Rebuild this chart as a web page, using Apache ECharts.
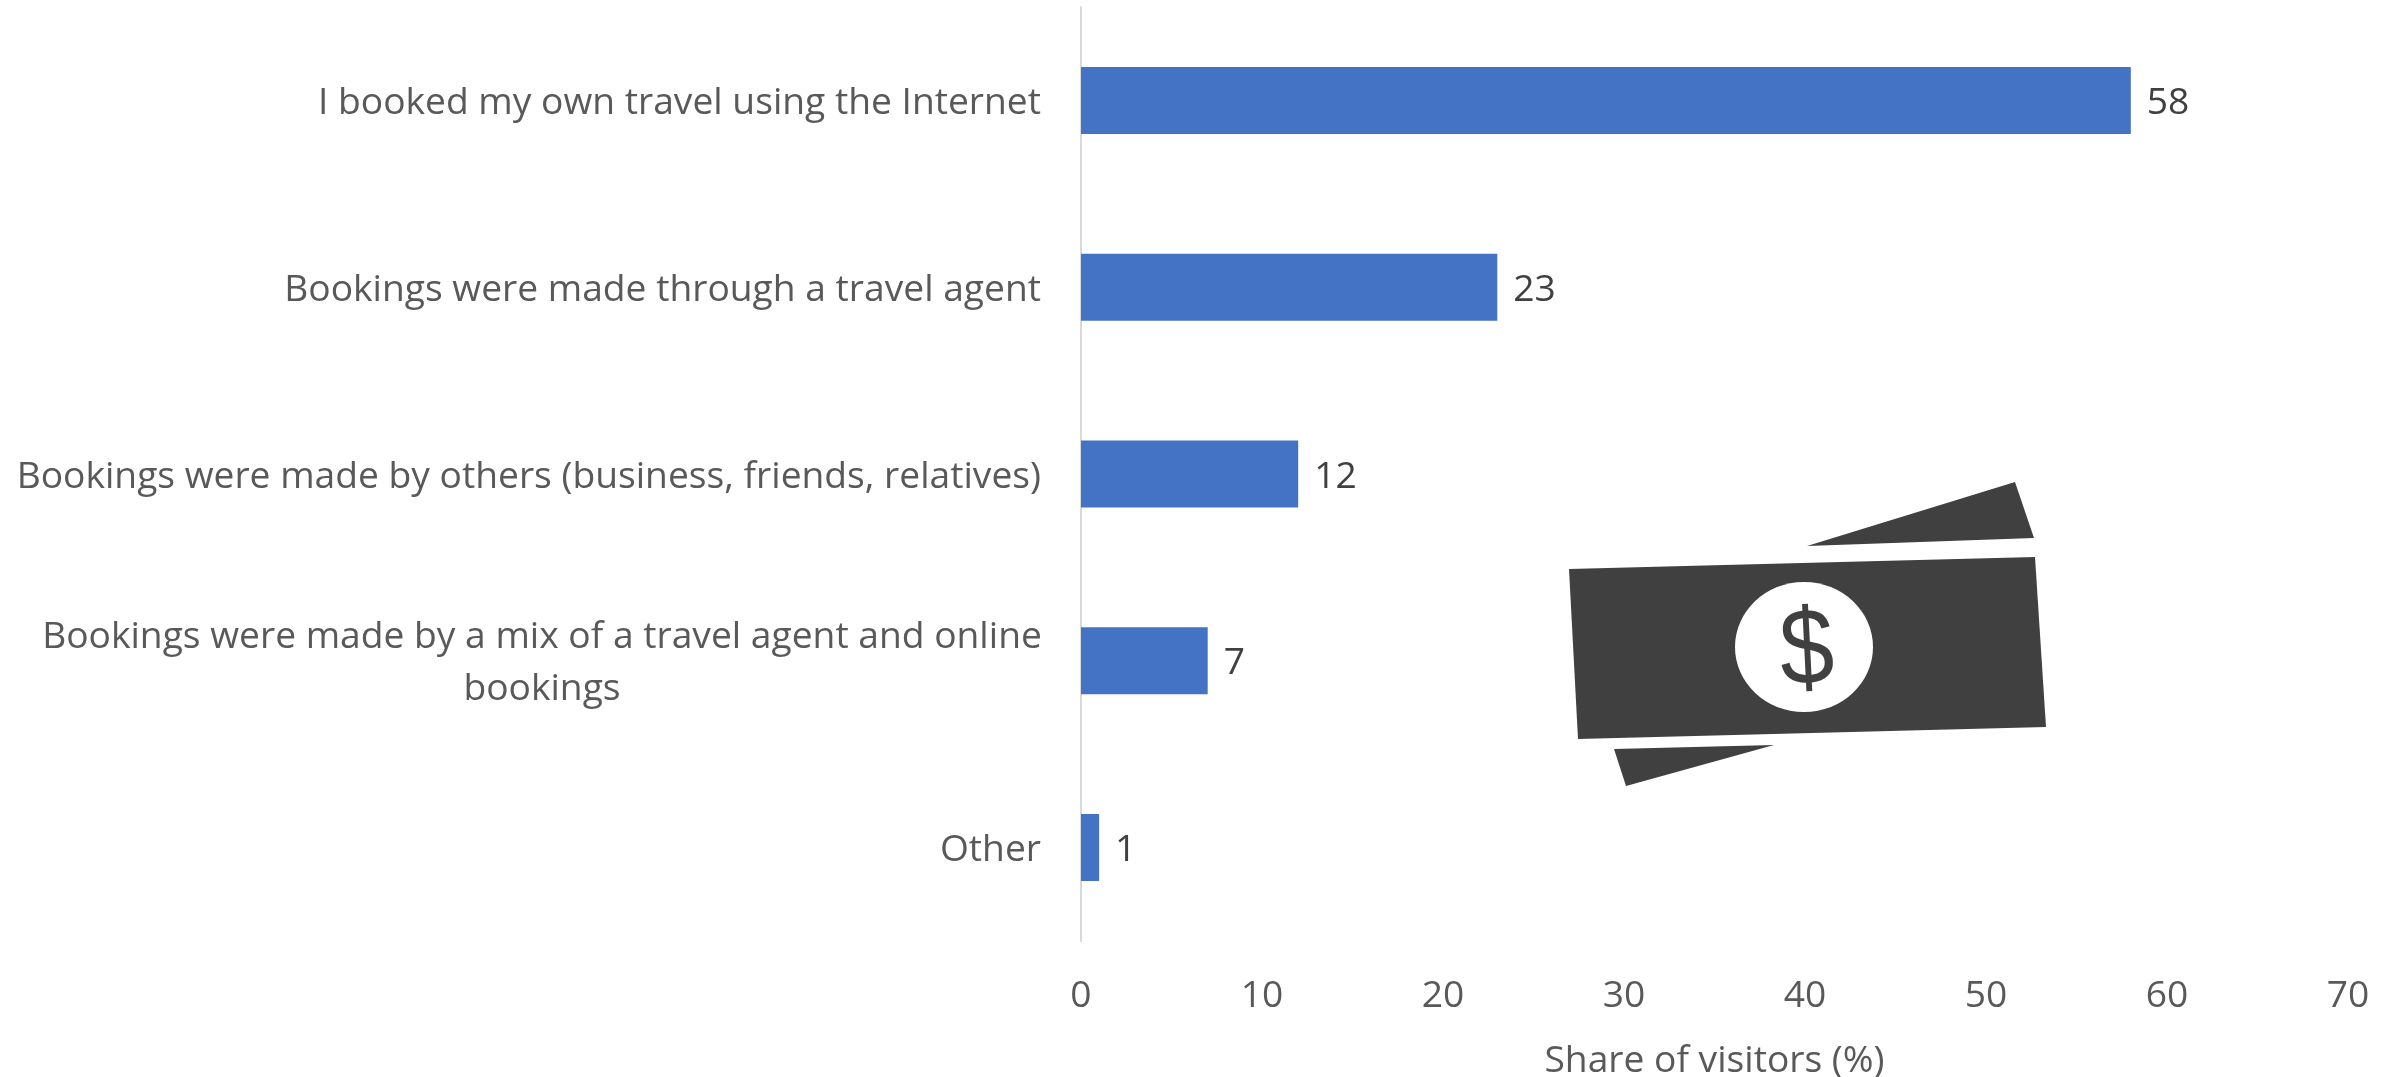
<!DOCTYPE html>
<html>
<head>
<meta charset="utf-8">
<style>html,body{margin:0;padding:0;background:#fff}#chart{width:2400px;height:1077px}</style>
<script src="https://cdn.jsdelivr.net/npm/echarts@6/dist/echarts.min.js"></script>
</head>
<body>
<div id="chart"></div>
<script>
const categories = [
  "I booked my own travel using the Internet",
  "Bookings were made through a travel agent",
  "Bookings were made by others (business, friends, relatives)",
  "Bookings were made by a mix of a travel agent and online\nbookings",
  "Other"
];
const shares = [58, 23, 12, 7, 1];
const shareTicks = { min: 0, max: 70, interval: 10 };
const axisTitle = "Share of visitors (%)";

const FONT = '"Open Sans", sans-serif';
const FONT_SIZE = 37.2;
const ICON = "#404040";

const chart = echarts.init(document.getElementById("chart"), null, { renderer: "canvas" });
chart.setOption({
  animation: false,
  backgroundColor: "#fff",
  grid: { left: 1081, right: 52, top: 7, bottom: 136, outerBoundsMode: "none" },
  xAxis: {
    type: "value",
    min: shareTicks.min,
    max: shareTicks.max,
    interval: shareTicks.interval,
    splitLine: { show: false },
    axisLine: { show: false },
    axisTick: { show: false },
    axisLabel: { color: "#595959", fontFamily: FONT, fontSize: FONT_SIZE, margin: 37 },
    name: axisTitle,
    nameLocation: "middle",
    nameGap: 102,
    nameTextStyle: { color: "#595959", fontFamily: FONT, fontSize: FONT_SIZE }
  },
  yAxis: {
    type: "category",
    inverse: true,
    data: categories,
    axisLine: { show: true, lineStyle: { color: "#d9d9d9", width: 2 } },
    axisTick: { show: false },
    axisLabel: {
      color: "#595959",
      fontFamily: FONT,
      fontSize: FONT_SIZE,
      margin: 40,
      lineHeight: 52,
      padding: [6, 0, 0, 0],
      // Wrapped labels have their lines centred on each other
      formatter: (value) => value.includes("\n")
        ? value.split("\n").map((line) => `{wrapped|${line}}`).join("\n")
        : value,
      rich: {
        wrapped: {
          width: 998,
          align: "center",
          color: "#595959",
          fontFamily: FONT,
          fontSize: FONT_SIZE,
          lineHeight: 52
        }
      }
    }
  },
  series: [{
    type: "bar",
    data: shares,
    barWidth: 67,
    itemStyle: { color: "#4472c4" },
    label: {
      show: true,
      position: "right",
      distance: 16,
      offset: [0, 3],
      color: "#404040",
      fontFamily: FONT,
      fontSize: FONT_SIZE
    }
  }],
  // Banknote pictogram sitting in the empty lower-right of the plot
  graphic: [
    { type: "polygon", shape: { points: [[1807, 546], [2015, 482], [2034, 538]] }, style: { fill: ICON } },
    { type: "polygon", shape: { points: [[1614, 749], [1774, 745], [1626, 786]] }, style: { fill: ICON } },
    { type: "polygon", shape: { points: [[1569, 569], [2035, 557], [2046, 727], [1578, 739]] }, style: { fill: ICON } },
    { type: "ellipse", shape: { cx: 1804, cy: 647, rx: 69, ry: 65 }, style: { fill: "#fff" } },
    {
      type: "text",
      x: 1807, y: 654,
      rotation: 0.05,
      scaleX: 0.9,
      style: {
        text: "$", fill: ICON, font: '108px "Liberation Sans", sans-serif',
        align: "center", verticalAlign: "middle"
      }
    }
  ]
});
</script>
</body>
</html>
